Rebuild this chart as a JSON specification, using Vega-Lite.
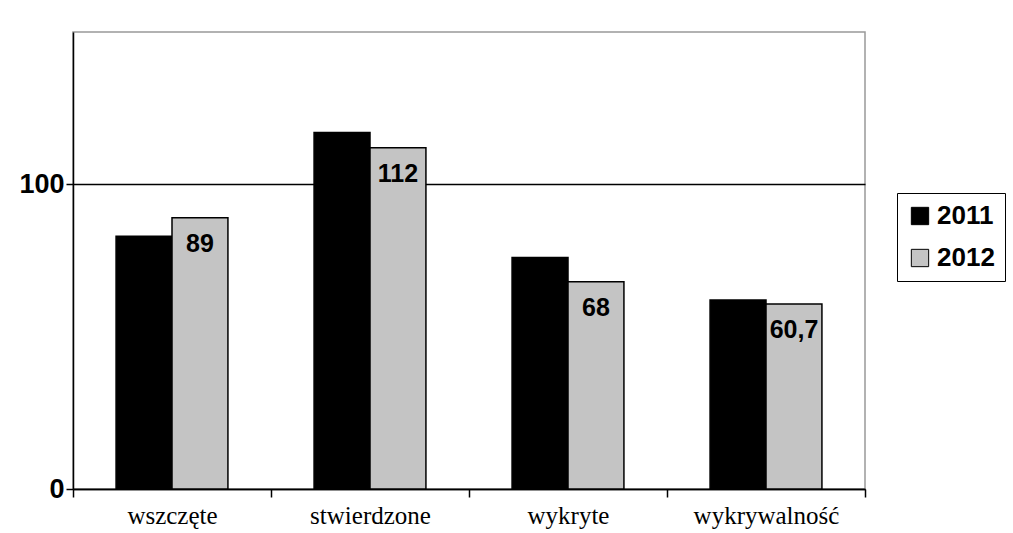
{
  "$schema": "https://vega.github.io/schema/vega-lite/v6.json",
  "width": 792,
  "height": 457,
  "autosize": "none",
  "padding": {"left": 73, "top": 32, "right": 148, "bottom": 44},
  "background": "white",
  "config": {
    "view": {"stroke": "#999999", "strokeWidth": 1.5}
  },
  "data": {
    "values": [
      {"kategoria": "wszczęte", "rok": "2011", "wartosc": 83, "etykieta": ""},
      {"kategoria": "wszczęte", "rok": "2012", "wartosc": 89, "etykieta": "89"},
      {"kategoria": "stwierdzone", "rok": "2011", "wartosc": 117, "etykieta": ""},
      {"kategoria": "stwierdzone", "rok": "2012", "wartosc": 112, "etykieta": "112"},
      {"kategoria": "wykryte", "rok": "2011", "wartosc": 76, "etykieta": ""},
      {"kategoria": "wykryte", "rok": "2012", "wartosc": 68, "etykieta": "68"},
      {"kategoria": "wykrywalność", "rok": "2011", "wartosc": 62, "etykieta": ""},
      {"kategoria": "wykrywalność", "rok": "2012", "wartosc": 60.7, "etykieta": "60,7"}
    ]
  },
  "encoding": {
    "x": {
      "field": "kategoria",
      "type": "nominal",
      "sort": ["wszczęte", "stwierdzone", "wykryte", "wykrywalność"],
      "scale": {"paddingInner": 0, "paddingOuter": 0},
      "axis": {
        "title": null,
        "labelAngle": 0,
        "labelFont": "Liberation Serif",
        "labelFontSize": 25,
        "labelColor": "black",
        "labelPadding": 6,
        "tickBand": "extent",
        "tickColor": "black",
        "tickSize": 8,
        "tickWidth": 1.5,
        "domainColor": "black",
        "domainWidth": 1.5
      }
    },
    "xOffset": {
      "field": "rok",
      "type": "nominal",
      "scale": {"paddingInner": 0, "paddingOuter": 0.77}
    },
    "y": {
      "field": "wartosc",
      "type": "quantitative",
      "scale": {"domain": [0, 150]},
      "axis": {
        "title": null,
        "values": [0, 100],
        "labelFont": "Liberation Sans",
        "labelFontWeight": "bold",
        "labelFontSize": 27,
        "labelColor": "black",
        "labelPadding": 2,
        "tickColor": "black",
        "tickSize": 7,
        "tickWidth": 1.5,
        "domainColor": "black",
        "domainWidth": 1.5,
        "grid": true,
        "gridColor": "black",
        "gridWidth": 1.5
      }
    }
  },
  "layer": [
    {
      "mark": {"type": "bar", "stroke": "black", "strokeWidth": 1.5},
      "encoding": {
        "color": {
          "field": "rok",
          "type": "nominal",
          "scale": {"domain": ["2011", "2012"], "range": ["#000000", "#c4c4c4"]},
          "legend": {
            "title": null,
            "orient": "none",
            "legendX": 824,
            "legendY": 161,
            "symbolType": "square",
            "symbolSize": 300,
            "symbolStrokeColor": "black",
            "symbolStrokeWidth": 1,
            "labelFont": "Liberation Sans",
            "labelFontWeight": "bold",
            "labelFontSize": 26,
            "labelColor": "black",
            "labelOffset": 4,
            "rowPadding": 16,
            "padding": 10,
            "strokeColor": "black",
            "fillColor": "white"
          }
        }
      }
    },
    {
      "mark": {
        "type": "text",
        "font": "Liberation Sans",
        "fontWeight": "bold",
        "fontSize": 25,
        "color": "black",
        "baseline": "top",
        "dy": 14
      },
      "encoding": {
        "text": {"field": "etykieta"}
      }
    }
  ]
}
